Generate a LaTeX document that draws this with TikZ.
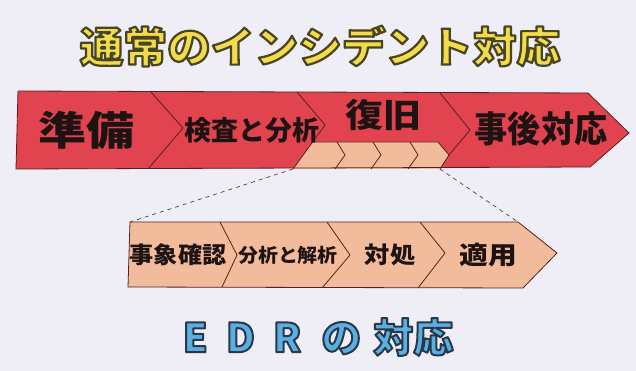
\documentclass[tikz,border=0pt]{standalone}
\usepackage{fontspec}
\usepackage{graphicx}
\newfontfamily\jp{Noto Sans CJK JP}
\definecolor{bg}{HTML}{EFEEF6}
\definecolor{redband}{HTML}{E1444F}
\definecolor{peach}{HTML}{F2BC9C}
\definecolor{edge}{HTML}{5A1E1E}
\definecolor{ink}{HTML}{1E1212}
\definecolor{ttlyellow}{HTML}{F3DC4C}
\definecolor{ttlblue}{HTML}{5BAEDF}
% outlined text: fill in current colour, stroke in the given rgb
\newcommand\olt[3]{%
  \special{pdf:literal direct #1 RG 2 Tr #2 w 1 j}#3\special{pdf:literal direct 0 Tr}}
\tikzset{
  band/.style={draw=edge, line width=0.8pt, line join=round},
  divider/.style={draw=edge, line width=0.8pt, line join=round},
  label/.style={inner sep=0pt, text=ink, font=\jp\bfseries},
  zoomline/.style={draw=ink!80, dashed, line width=0.7pt, dash pattern=on 4pt off 4pt},
}
\begin{document}
\begin{tikzpicture}[x=1pt,y=-1pt]
\fill[bg] (0,0) rectangle (636,371);
\useasboundingbox (0,0) rectangle (636,371);

% title
\node[inner sep=0pt, text=ttlyellow, font=\jp\bfseries\fontsize{42}{44}\selectfont] (ttl) at (320,46)
  {\scalebox{1.04}[1]{\olt{0.29 0.27 0.13}{2.2}{通常のインシデント対応}}};

% red band
\fill[redband] (18,91) -- (588,93) -- (629,133) -- (590,167) -- (16,169) -- cycle;
\coordinate (pl) at (293,169);
\coordinate (pr) at (440,169);
\fill[peach] (313,142) -- (438,142) -- (449,155) -- (pr) -- (pl) -- cycle;
\draw[divider] (337,142) -- (345,155) -- (335,169);
\draw[divider] (373,142) -- (381,155) -- (371,169);
\draw[divider] (410,142) -- (418,155) -- (408,169);
\draw[divider] (313,142) -- (438,142) -- (449,155) -- (pr);
\draw[divider] (150,91) -- (183,128) -- (148,169);
\draw[divider] (297,92) -- (325,125) -- (pl);
\draw[divider] (440,93) -- (470,130) -- (449,155);
\draw[band] (18,91) -- (588,93) -- (629,133) -- (590,167) -- (16,169) -- cycle;

\node[label, font=\jp\bfseries\fontsize{40}{42}\selectfont] (junbi) at (86,130) {\scalebox{1.2}[1]{準備}};
\node[label, font=\jp\bfseries\fontsize{27}{29}\selectfont] (kensa) at (252,130) {検査と分析};
\node[label, font=\jp\bfseries\fontsize{33}{35}\selectfont] (fukkyu) at (383,115) {\scalebox{1.15}[1]{復旧}};
\node[label, font=\jp\bfseries\fontsize{36}{38}\selectfont] (jigo) at (541,129) {\scalebox{0.92}[1]{事後対応}};

% lower band
\coordinate (ql) at (130,222);
\coordinate (qr) at (518,222);
\filldraw[fill=peach, band] (ql) -- (qr) -- (557,253) -- (523,288) -- (128,287) -- cycle;
\draw[divider] (220,222) -- (237,255) -- (222,287);
\draw[divider] (327,222) -- (350,255) -- (322,288);
\draw[divider] (420,222) -- (445,253) -- (418,288);

\draw[zoomline] (pl) -- (ql);
\draw[zoomline] (pr) -- (qr);

\node[label, font=\jp\bfseries\fontsize{23}{25}\selectfont] (jisho) at (178,255) {\scalebox{1.05}[1]{事象確認}};
\node[label, font=\jp\bfseries\fontsize{19}{21}\selectfont] (bunseki) at (288,255) {\scalebox{1.05}[1]{分析と解析}};
\node[label, font=\jp\bfseries\fontsize{23}{25}\selectfont] (taisho) at (390,255) {\scalebox{1.1}[1]{対処}};
\node[label, font=\jp\bfseries\fontsize{25}{27}\selectfont] (tekiyo) at (488,255) {\scalebox{1.15}[1]{適用}};

% EDR title
\node[inner sep=0pt, text=ttlblue, font=\jp\bfseries\fontsize{40}{42}\selectfont] (edr) at (318,337)
  {\olt{0.15 0.22 0.29}{2.0}{E\hspace{0.45em}D\hspace{0.45em}R\hspace{0.5em}の\hspace{0.3em}対応}};
\end{tikzpicture}
\end{document}
